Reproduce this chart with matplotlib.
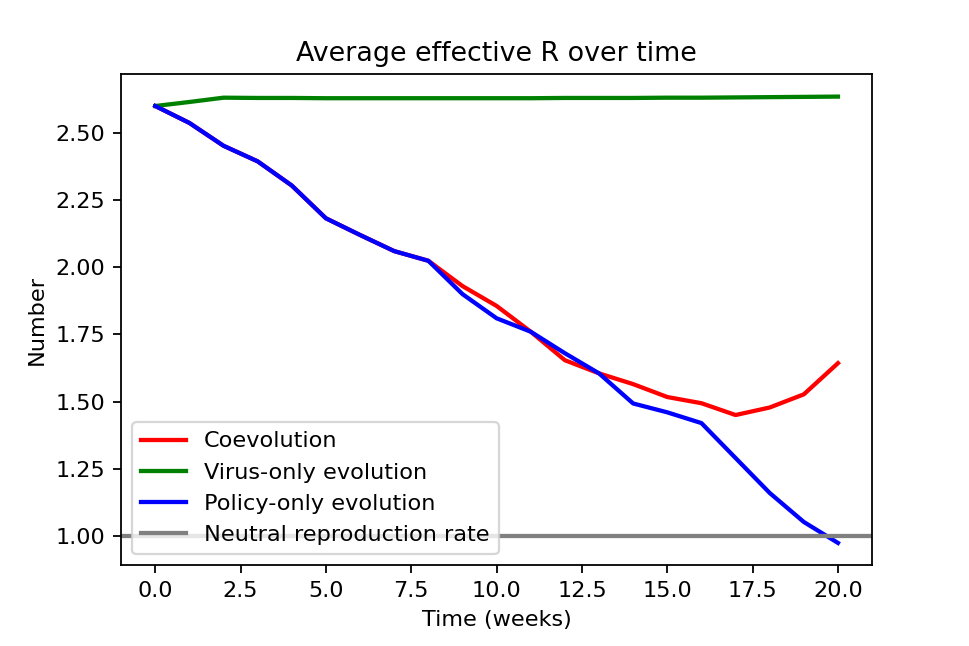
import matplotlib
matplotlib.use('Agg')
import matplotlib.pyplot as plt

weeks = list(range(21))

coevolution = [2.600, 2.537, 2.452, 2.394, 2.304, 2.182, 2.120, 2.060, 2.024,
               1.930, 1.856, 1.760, 1.654, 1.605, 1.565, 1.517, 1.494, 1.450,
               1.478, 1.527, 1.643]

virus_only = [2.600, 2.615, 2.631, 2.630, 2.630, 2.629, 2.629, 2.629, 2.629,
              2.629, 2.629, 2.629, 2.630, 2.630, 2.630, 2.631, 2.631, 2.632,
              2.633, 2.634, 2.635]

policy_only = [2.600, 2.537, 2.452, 2.394, 2.304, 2.182, 2.120, 2.060, 2.024,
               1.900, 1.810, 1.760, 1.680, 1.605, 1.493, 1.460, 1.420, 1.290,
               1.160, 1.052, 0.974]

neutral = 1.0

fig, ax = plt.subplots(figsize=(6, 4), dpi=161.5)
fig.subplots_adjust(top=0.885, bottom=0.125)

ax.plot(weeks, coevolution, color='red', linewidth=1.9, label='Coevolution')
ax.plot(weeks, virus_only, color='green', linewidth=1.9, label='Virus-only evolution')
ax.plot(weeks, policy_only, color='blue', linewidth=1.9, label='Policy-only evolution')
ax.axhline(neutral, color='gray', linewidth=1.9, label='Neutral reproduction rate')

ax.set_title('Average effective R over time')
ax.set_xlabel('Time (weeks)')
ax.set_ylabel('Number')
ax.legend(loc='lower left')

fig.savefig('out.png')
